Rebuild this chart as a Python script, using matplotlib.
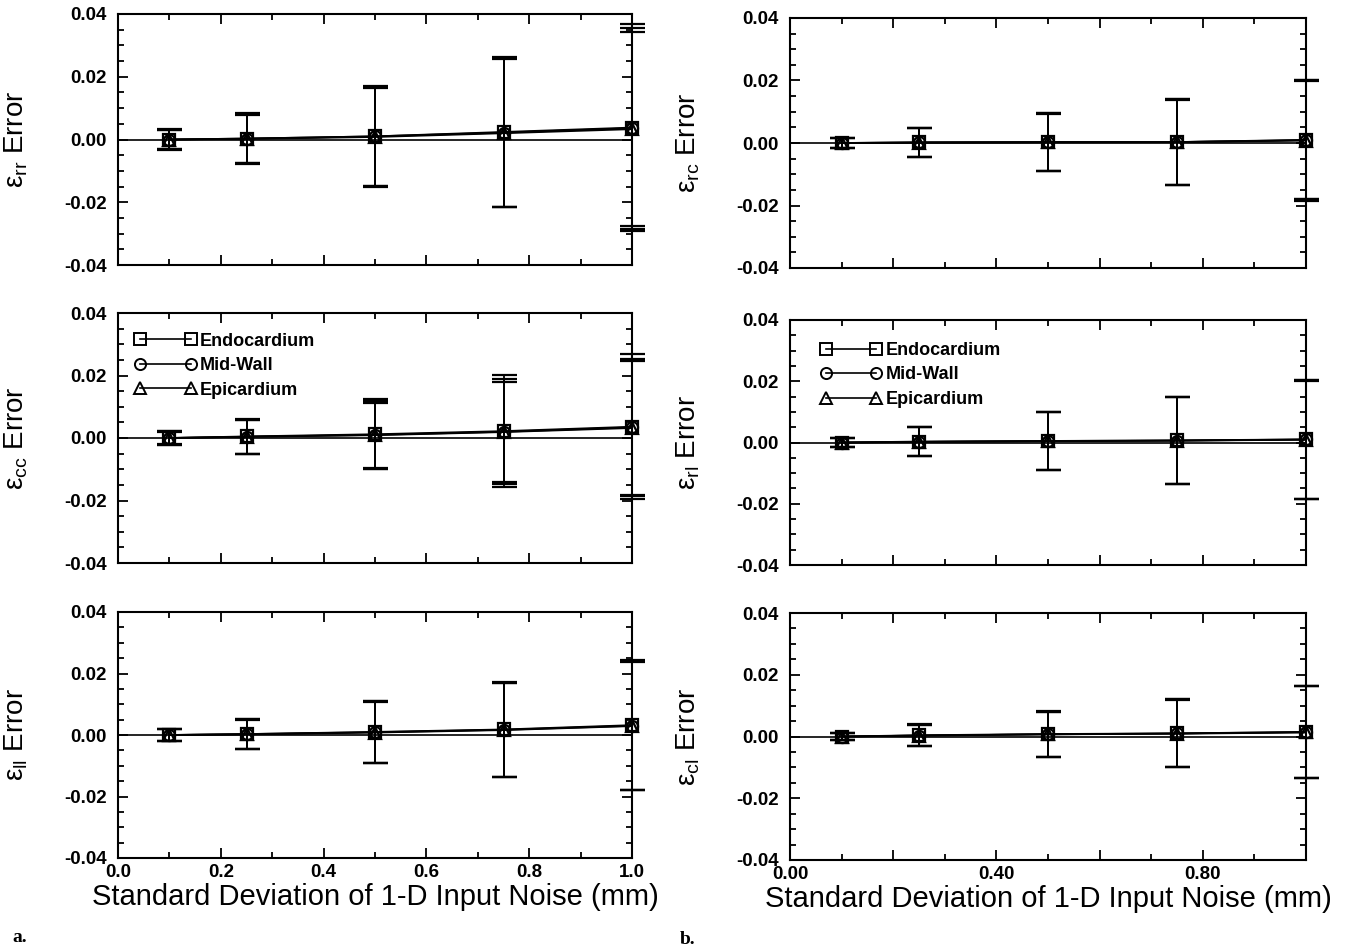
import matplotlib.pyplot as plt
from matplotlib.ticker import MultipleLocator, FuncFormatter
from matplotlib.lines import Line2D
import numpy as np

plt.rcParams['font.family'] = ['Liberation Sans', 'DejaVu Sans']
plt.rcParams['mathtext.fontset'] = 'custom'
plt.rcParams['mathtext.rm'] = 'Liberation Sans'
plt.rcParams['mathtext.it'] = 'Liberation Sans'

# noise levels (mm)
noise = [0.1, 0.25, 0.5, 0.75, 1.0]
series = ['Endocardium', 'Mid-Wall', 'Epicardium']

# mean error per series (endo, mid, epi) and standard deviation
rr_mean = [[0.0000, 0.0003, 0.0010, 0.0024, 0.0038],
           [0.0000, 0.0003, 0.0010, 0.0022, 0.0036],
           [0.0000, 0.0002, 0.0008, 0.0020, 0.0033]]
rr_sd = [[0.0032, 0.0080, 0.0162, 0.0240, 0.0330],
         [0.0031, 0.0078, 0.0158, 0.0238, 0.0320],
         [0.0030, 0.0077, 0.0155, 0.0236, 0.0310]]

cc_mean = [[0.0000, 0.0005, 0.0012, 0.0022, 0.0036],
           [0.0000, 0.0004, 0.0010, 0.0020, 0.0034],
           [0.0000, 0.0004, 0.0009, 0.0019, 0.0032]]
cc_sd = [[0.0022, 0.0057, 0.0112, 0.0180, 0.0232],
         [0.0021, 0.0055, 0.0108, 0.0168, 0.0220],
         [0.0020, 0.0054, 0.0104, 0.0160, 0.0215]]

ll_mean = [[0.0000, 0.0003, 0.0010, 0.0018, 0.0032],
           [0.0000, 0.0003, 0.0009, 0.0017, 0.0030],
           [0.0000, 0.0002, 0.0008, 0.0016, 0.0029]]
ll_sd = [[0.0021, 0.0050, 0.0102, 0.0155, 0.0212],
         [0.0020, 0.0049, 0.0101, 0.0153, 0.0210],
         [0.0020, 0.0048, 0.0100, 0.0152, 0.0208]]

rc_mean = [[0.0000, 0.0002, 0.0003, 0.0003, 0.0010],
           [0.0000, 0.0002, 0.0003, 0.0003, 0.0009],
           [0.0000, 0.0001, 0.0002, 0.0003, 0.0008]]
rc_sd = [[0.0016, 0.0047, 0.0093, 0.0138, 0.0190],
         [0.0016, 0.0046, 0.0092, 0.0137, 0.0188],
         [0.0015, 0.0046, 0.0092, 0.0136, 0.0192]]

rl_mean = [[0.0000, 0.0003, 0.0005, 0.0007, 0.0010],
           [0.0000, 0.0002, 0.0005, 0.0006, 0.0010],
           [0.0000, 0.0002, 0.0004, 0.0006, 0.0009]]
rl_sd = [[0.0016, 0.0048, 0.0096, 0.0143, 0.0194],
         [0.0016, 0.0047, 0.0095, 0.0142, 0.0193],
         [0.0015, 0.0047, 0.0095, 0.0141, 0.0192]]

cl_mean = [[0.0000, 0.0004, 0.0008, 0.0010, 0.0015],
           [0.0000, 0.0003, 0.0007, 0.0010, 0.0014],
           [0.0000, 0.0003, 0.0007, 0.0009, 0.0013]]
cl_sd = [[0.0011, 0.0036, 0.0073, 0.0110, 0.0150],
         [0.0011, 0.0035, 0.0072, 0.0110, 0.0150],
         [0.0010, 0.0035, 0.0072, 0.0109, 0.0149]]

markers = ['s', 'o', '^']

W, H = 1355, 952
fig = plt.figure(figsize=(W / 100, H / 100), dpi=100)


def box(x0, y0, x1, y1):
    return [x0 / W, 1 - y1 / H, (x1 - x0) / W, (y1 - y0) / H]


panels = [
    (box(118, 14, 632, 265), rr_mean, rr_sd, 'rr', 'L', False, False),
    (box(118, 313, 632, 563), cc_mean, cc_sd, 'cc', 'L', False, True),
    (box(118, 612, 632, 858), ll_mean, ll_sd, 'll', 'L', True, False),
    (box(790, 18, 1306, 268), rc_mean, rc_sd, 'rc', 'R', False, False),
    (box(790, 320, 1306, 565), rl_mean, rl_sd, 'rl', 'R', False, True),
    (box(790, 613, 1306, 860), cl_mean, cl_sd, 'cl', 'R', True, False),
]

bold = {'family': 'Liberation Sans', 'weight': 'bold', 'size': 13}

for rect, means, sds, sub, side, xlab, leg in panels:
    ax = fig.add_axes(rect)
    wpx = rect[2] * W
    hpx = rect[3] * H
    ax.axhline(0, color='black', lw=1.2, zorder=1)
    for k in range(3):
        ln, caps, bars = ax.errorbar(noise, means[k], yerr=sds[k], fmt='-', marker=markers[k],
                                     mfc='none', mec='black', mew=1.6, ms=8, color='black',
                                     lw=1.3, ecolor='black', elinewidth=1.3, capsize=9,
                                     capthick=1.8, zorder=3)
        ln.set_clip_on(False)
        for c in caps:
            c.set_clip_on(False)
        for b in bars:
            b.set_clip_on(False)
    ax.set_xlim(0, 1.0)
    ax.set_ylim(-0.04, 0.04)
    ax.yaxis.set_major_locator(MultipleLocator(0.02))
    ax.yaxis.set_minor_locator(MultipleLocator(0.005))
    ax.xaxis.set_major_locator(MultipleLocator(0.2))
    ax.xaxis.set_minor_locator(MultipleLocator(0.1))
    ax.yaxis.set_major_formatter(FuncFormatter(lambda v, p: f'{v:.2f}'))
    if side == 'L':
        ax.xaxis.set_major_formatter(FuncFormatter(lambda v, p: f'{v:.1f}'))
    else:
        ax.xaxis.set_major_formatter(FuncFormatter(
            lambda v, p: f'{v:.2f}' if round(v / 0.2) % 2 == 0 and v < 0.95 else ''))
    ax.tick_params(which='both', direction='in', top=True, right=True, width=1.3)
    ax.tick_params(which='major', length=7, labelsize=13.5)
    ax.tick_params(axis='y', which='major', pad=8)
    ax.tick_params(axis='x', which='major', pad=4)
    ax.tick_params(which='minor', length=4)
    for lab in ax.get_yticklabels() + ax.get_xticklabels():
        lab.set_fontweight('bold')
    if not xlab:
        ax.tick_params(labelbottom=False)
    else:
        ax.set_xlabel('Standard Deviation of 1-D Input Noise (mm)', fontsize=21)
        ax.xaxis.set_label_coords(0.5, -25 / hpx)
    for s in ax.spines.values():
        s.set_linewidth(1.5)
    ax.set_ylabel(r'$\mathregular{\epsilon_{%s}}$ Error' % sub, fontsize=20)
    ax.yaxis.set_label_coords(-88 / wpx, 0.5)
    if leg:
        lx = 0.012 if side == 'L' else 0.038
        ly = 0.965 if side == 'L' else 0.955
        handles = [Line2D([0], [0], color='black', lw=1.2, marker=markers[k], mfc='none',
                          mec='black', mew=1.4, ms=8) for k in range(3)]
        ax.legend(handles, series, loc='upper left', bbox_to_anchor=(lx, ly),
                  frameon=False, numpoints=2, handlelength=3.4, handletextpad=0.2,
                  labelspacing=0.42, prop=bold, borderaxespad=0.2)

fig.text(12 / W, 1 - 937 / H, 'a.', family='Liberation Serif', weight='bold', fontsize=14,
         va='center')
fig.text(680 / W, 1 - 940 / H, 'b.', family='Liberation Serif', weight='bold', fontsize=14,
         va='center')

fig.savefig('out.png', dpi=100)
